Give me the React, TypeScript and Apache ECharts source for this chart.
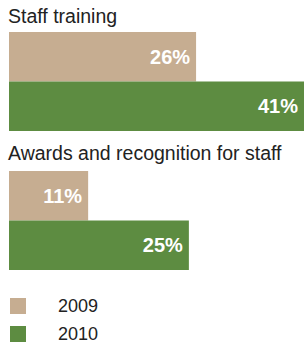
import React, { useEffect, useRef } from "react";
import * as echarts from "echarts";

const groupTitles = ["Staff training", "Awards and recognition for staff"];
const seriesNames = ["2009", "2010"];
const values2009 = [26, 11];
const values2010 = [41, 25];
const colors = ["#c6ad91", "#5d8c41"];

export default function App() {
  const ref = useRef<HTMLDivElement>(null);
  useEffect(() => {
    if (!ref.current) return;
    const chart = echarts.init(ref.current, undefined, { renderer: "svg" });
    const font = "'Liberation Sans', Arial, Helvetica, sans-serif";
    const grids = [
      { left: 9, right: 0, top: 32, height: 99 },
      { left: 9, right: 0, top: 171, height: 99 },
    ];
    const series: any[] = [];
    grids.forEach((_, gi) => {
      [values2009, values2010].forEach((vals, si) => {
        series.push({
          type: "bar",
          name: seriesNames[si],
          xAxisIndex: gi,
          yAxisIndex: gi,
          data: [vals[gi]],
          barGap: "0%",
          barCategoryGap: "0%",
          itemStyle: { color: colors[si] },
          label: {
            show: true,
            position: "insideRight",
            distance: 6,
            formatter: "{c}%",
            color: "#ffffff",
            fontWeight: "bold",
            fontSize: 20,
            fontFamily: font,
          },
        });
      });
    });
    const legendTops = [297, 325];
    chart.setOption({
      animation: false,
      backgroundColor: "#ffffff",
      title: [
        { text: groupTitles[0], left: 8, top: 6, padding: 0, textStyle: { fontSize: 19.5, fontWeight: "normal", color: "#222", fontFamily: font } },
        { text: groupTitles[1], left: 8, top: 143, padding: 0, textStyle: { fontSize: 19.5, fontWeight: "normal", color: "#222", fontFamily: font } },
      ],
      legend: seriesNames.map((n, i) => ({
        data: [n],
        orient: "vertical",
        left: 10,
        top: legendTops[i],
        padding: 0,
        itemWidth: 16,
        itemHeight: 16,
        icon: "rect",
        textStyle: { fontSize: 18, lineHeight: 16, color: "#222", fontFamily: font, padding: [0, 0, 0, 27] },
      })),
      grid: grids,
      xAxis: grids.map((_, i) => ({ type: "value", gridIndex: i, min: 0, max: 41, show: false })),
      yAxis: grids.map((_, i) => ({ type: "category", gridIndex: i, data: [groupTitles[i]], inverse: true, show: false })),
      series,
    });
    return () => chart.dispose();
  }, []);
  return <div ref={ref} style={{ position: "fixed", left: 0, top: 0, width: 304, height: 345 }} />;
}
